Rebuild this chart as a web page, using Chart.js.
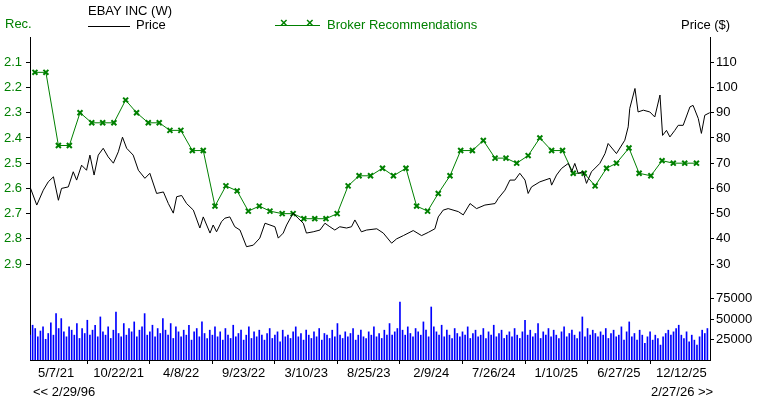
<!DOCTYPE html>
<html>
<head>
<meta charset="utf-8">
<script src="https://cdn.jsdelivr.net/npm/chart.js@4"></script>
<style>
  body { margin: 0; background: #fff; font-family: "Liberation Sans", Arial, sans-serif; font-size: 13px; }
  #wrap { position: relative; width: 760px; height: 400px; }
  .t { position: absolute; white-space: nowrap; }
</style>
</head>
<body>
<div id="wrap">
  <canvas id="c" width="760" height="400"></canvas>
  <div class="t" style="left:5px;top:16px;color:#008000">Rec.</div>
  <div class="t" style="left:88px;top:3px">EBAY INC (W)</div>
  <div class="t" style="left:88px;top:26px;width:42px;border-top:1px solid #000"></div>
  <div class="t" style="left:136px;top:17px">Price</div>
  <div class="t" style="left:275px;top:25px;width:45px;border-top:1px solid #008000"></div>
  <div class="t" style="left:280px;top:15px;color:#008000;font-size:13px;font-weight:bold">×</div>
  <div class="t" style="left:306px;top:15px;color:#008000;font-size:13px;font-weight:bold">×</div>
  <div class="t" style="left:327px;top:17px;color:#008000">Broker Recommendations</div>
  <div class="t" style="left:681px;top:17px">Price ($)</div>
  <div class="t" style="left:33px;top:384px">&lt;&lt; 2/29/96</div>
  <div class="t" style="left:651px;top:384px">2/27/26 &gt;&gt;</div>
</div>
<script>
// weekly axis starts 2021-02-26
const startDate = '2021-02-26';
const tickLabels = ['5/7/21','10/22/21','4/8/22','9/23/22','3/10/23','8/25/23','2/9/24','7/26/24','1/10/25','6/27/25','12/12/25'];

const priceWeeks = [0,2.6,5.1,7,9,10.9,12.1,14.7,16.6,17.9,19.8,21.7,23,24.6,26.2,28.1,30,32,33.9,35.5,37.1,39.6,41.6,44.1,46,48.6,51.2,53.1,55,56.3,58.2,60.1,62.7,65.2,66.5,69.1,70.3,71.6,73.5,74.8,76.7,78.6,80.6,83.1,85.7,88.2,90.2,92.1,94,95.3,97.2,98.5,101,102.9,104.9,106.1,108.7,111.3,113.2,115.1,117,118.9,121.5,123.4,124.7,127.2,129.2,
  133.1,135.6,138.8,140.7,143.3,147.1,150.3,152.9,155.4,156.7,158.6,160.5,164.4,166.3,168.9,171.4,174.6,178.5,179.7,182.3,184.2,186.1,188,190,191.2,192.5,195.7,199.6,200.2,202.1,204,206.6,207.9,209.1,210.4,212.3,213.6,215.5,218.7,220.7,221.9,225.1,228.3,229.6,230.2,232.2,233.4,235.4,237.9,239.8,241.8,242.8,244.3,245.6,247.5,248.8,250.7,253.3,254.5,256.5,257.7,259,260.9];
const priceValues = [60.6,53.4,59.3,62.6,64.6,55.3,60,60.6,66.6,63.3,69.2,67.2,73.2,65.3,73.2,75.9,72.5,70,74.5,80.3,75.9,73.2,67.2,64,66,58,58.6,54,50.2,56.7,57.2,54,51.4,44.3,48.7,42.3,45.5,42.8,46.8,48.2,48.7,44.8,43.5,36.9,37.5,40.3,46.2,45.5,44.8,40.3,42.3,45.5,50.2,48.2,46.2,42.3,42.8,43.5,46.2,44.8,43.5,44.8,44.3,44.8,47.5,42.8,43.5,
  44,42.3,38.3,40,41.3,43.3,41.3,42.6,44,48.7,51.4,52,50.8,49.5,54,52,53.4,54,56,59.3,63.3,63.3,66,63.3,58,60.6,62.6,64,61.3,65.3,67.9,69.9,66.6,69.9,66,66.6,62,66.6,69.9,73.8,77.8,73.8,79.1,84.4,91.7,99.6,90.3,91,90.3,88.3,97,81,83,80.4,83,85,85,92.3,92.9,87.7,81.8,89,90];

const recWeeks = [1.9,6.1,10.9,15.1,19.2,23.7,27.9,32.2,36.7,40.9,45.4,49.6,53.7,57.9,62.3,66.5,71,75.2,79.5,83.8,88,92.1,96.8,101,105.1,109.3,113.6,117.9,122.1,126.3,130.7,135.3,
  139.5,144.3,148.4,152.6,156.7,161.2,165.3,169.8,174,178.5,182.7,186.8,191.2,195.7,200.2,204.4,208.5,212.7,216.9,221.3,225.1,229.9,233.8,238.3,242.6,246.9,251.3,255.8];
const recValues = [2.14,2.14,2.43,2.43,2.3,2.34,2.34,2.34,2.25,2.3,2.34,2.34,2.37,2.37,2.45,2.45,2.67,2.59,2.61,2.69,2.67,2.69,2.7,2.7,2.72,2.72,2.72,2.7,2.59,2.55,2.55,2.52,
  2.55,2.52,2.67,2.69,2.62,2.55,2.45,2.45,2.41,2.48,2.48,2.5,2.47,2.4,2.45,2.45,2.54,2.54,2.59,2.52,2.5,2.44,2.54,2.55,2.49,2.5,2.5,2.5];

const volumeValues = [
  30000,42000,38000,28000,35000,40000,25000,32000,45000,30000,56000,38000,50000,34000,28000,40000,36000,30000,44000,26000,
  38000,32000,48000,30000,36000,42000,28000,52000,34000,30000,40000,26000,36000,58000,32000,28000,44000,30000,38000,34000,
  46000,28000,36000,40000,56000,30000,34000,42000,28000,38000,32000,50000,36000,30000,44000,26000,40000,34000,28000,36000,
  30000,42000,24000,34000,38000,28000,46000,32000,26000,36000,30000,40000,28000,34000,24000,38000,30000,26000,42000,28000,
  32000,36000,24000,30000,40000,26000,34000,28000,36000,30000,24000,32000,38000,26000,30000,34000,22000,36000,28000,30000,
  26000,34000,40000,28000,32000,24000,36000,30000,26000,34000,28000,38000,24000,32000,30000,26000,36000,28000,44000,30000,
  26000,34000,28000,32000,38000,24000,30000,36000,28000,26000,34000,30000,40000,28000,32000,26000,36000,30000,44000,30000,
  34000,38000,70000,36000,30000,40000,32000,28000,38000,34000,30000,46000,36000,28000,64000,40000,34000,30000,42000,28000,
  36000,30000,26000,38000,32000,28000,34000,30000,40000,26000,32000,36000,28000,30000,38000,26000,34000,30000,42000,28000,
  32000,36000,26000,30000,34000,28000,38000,30000,26000,34000,48000,30000,36000,28000,32000,44000,26000,34000,30000,38000,
  28000,36000,30000,26000,34000,40000,28000,32000,36000,30000,26000,34000,52000,28000,38000,30000,36000,32000,28000,34000,
  30000,38000,26000,32000,36000,28000,30000,40000,24000,34000,46000,28000,32000,24000,36000,30000,20000,28000,34000,24000,
  30000,26000,18000,28000,32000,36000,30000,34000,38000,42000,30000,26000,34000,22000,30000,24000,18000,28000,36000,32000,
  38000];

const weekOf = (s) => {
  const [m, d, y] = s.split('/').map(Number);
  return (Date.UTC(2000 + y, m - 1, d) - Date.parse(startDate)) / 604800000;
};
const tickWeeks = tickLabels.map(weekOf);

const GREEN = '#008000';
const fixW = (w) => (s) => { s.width = w; };

const volumeLabels = {
  id: 'volumeLabels',
  afterDraw(chart) {
    const ctx = chart.ctx, yv = chart.scales.yv, right = chart.chartArea.right;
    ctx.save();
    ctx.font = '13px "Liberation Sans", Arial, sans-serif';
    ctx.fillStyle = '#000';
    ctx.strokeStyle = '#000';
    ctx.textBaseline = 'middle';
    [25000, 50000, 75000].forEach(v => {
      const y = Math.round(yv.getPixelForValue(v)) + 0.5;
      ctx.beginPath(); ctx.moveTo(right, y); ctx.lineTo(right + 4, y); ctx.stroke();
      ctx.fillText(String(v), right + 6, y);
    });
    ctx.restore();
  }
};

new Chart(document.getElementById('c'), {
  data: {
    datasets: [
      {
        type: 'line', label: 'Price', yAxisID: 'yp',
        data: priceWeeks.map((w, i) => ({ x: w, y: priceValues[i] })),
        borderColor: '#000', borderWidth: 1, pointRadius: 0, tension: 0
      },
      {
        type: 'line', label: 'Broker Recommendations', yAxisID: 'yr',
        data: recWeeks.map((w, i) => ({ x: w, y: recValues[i] })),
        borderColor: GREEN, backgroundColor: GREEN, borderWidth: 1,
        pointStyle: 'crossRot', pointRadius: 3.5, pointBorderWidth: 2, tension: 0
      },
      {
        type: 'bar', label: 'Volume', yAxisID: 'yv',
        data: volumeValues.map((v, i) => ({ x: i, y: v })),
        backgroundColor: '#0000ff', barThickness: 1
      }
    ]
  },
  options: {
    responsive: false, animation: false,
    layout: { padding: { top: 37, bottom: 20 } },
    plugins: { legend: { display: false }, tooltip: { enabled: false } },
    scales: {
      x: {
        type: 'linear', min: 0, max: 261, offset: false,
        afterBuildTicks: (s) => { s.ticks = tickWeeks.map(v => ({ value: v })); },
        afterFit: (s) => { s.height = 20; },
        ticks: { autoSkip: false, maxRotation: 0, color: '#000', padding: 2,
          font: { family: 'Liberation Sans', size: 13 },
          callback: (v, i) => tickLabels[i] },
        grid: { display: true, drawOnChartArea: false, tickLength: 4, color: '#000' },
        border: { color: '#000' }
      },
      yr: {
        position: 'left', reverse: true, min: 2.0, max: 3.28,
        afterBuildTicks: (s) => { s.ticks = [2.1,2.2,2.3,2.4,2.5,2.6,2.7,2.8,2.9].map(v => ({ value: v })); },
        afterFit: fixW(30),
        ticks: { color: GREEN, padding: 4, font: { family: 'Liberation Sans', size: 13 },
          callback: (v) => v.toFixed(1) },
        grid: { display: true, drawOnChartArea: false, tickLength: 4, color: '#000' },
        border: { color: '#000' }
      },
      yp: {
        position: 'right', min: -8, max: 120,
        afterBuildTicks: (s) => { s.ticks = [30,40,50,60,70,80,90,100,110].map(v => ({ value: v })); },
        afterFit: fixW(50),
        ticks: { color: '#000', padding: 2, font: { family: 'Liberation Sans', size: 13 } },
        grid: { display: true, drawOnChartArea: false, tickLength: 4, color: '#000' },
        border: { color: '#000' }
      },
      yv: { display: false, min: 0, max: 390000 }
    }
  },
  plugins: [volumeLabels]
});
</script>
</body>
</html>
